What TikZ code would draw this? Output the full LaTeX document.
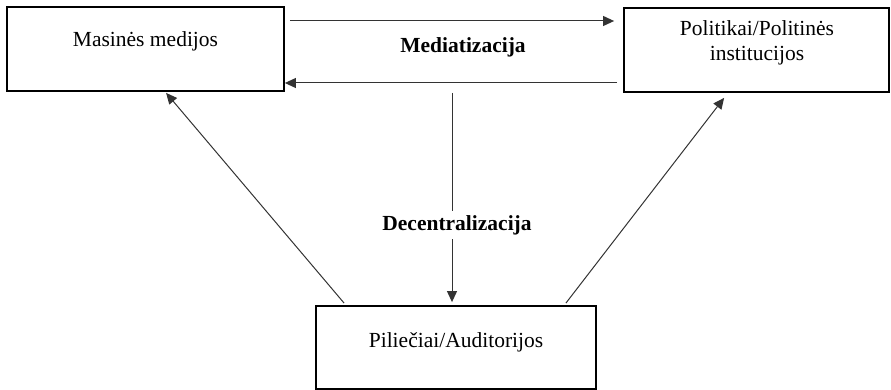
\documentclass[tikz,border=0pt]{standalone}
\usepackage{fontspec}
\setmainfont{Liberation Serif}
\usetikzlibrary{arrows.meta,calc}
\begin{document}
\begin{tikzpicture}[x=1pt,y=-1pt,
  box/.style={draw=black,line width=1.8pt,inner sep=0pt,fill=none},
  lbl/.style={font=\fontsize{21.5}{25}\selectfont,inner sep=0pt,align=center},
  blbl/.style={font=\fontsize{21.5}{25}\selectfont\bfseries,inner sep=1pt},
  arr/.style={draw=black!80,line width=1pt,-{Triangle[length=11pt,width=10pt]}}]
\useasboundingbox (0,0) rectangle (891,390);
% boxes
\node[box,minimum width=277pt,minimum height=84pt] (media) at (145.5,49) {};
\node[box,minimum width=265pt,minimum height=84pt] (pol) at (756.5,50) {};
\node[box,minimum width=280pt,minimum height=83pt] (cit) at (456,347.5) {};
% box texts
\node[lbl,anchor=base] (medialbl) at (145.5,47) {Masinės medijos};
\node[lbl,anchor=north] (pollbl) at (757,20) {Politikai/Politinės\\institucijos};
\node[lbl,anchor=base] (citlbl) at (456,347) {Piliečiai/Auditorijos};
% horizontal arrows
\draw[arr] ([xshift=5pt,yshift=28pt]media.east) -- ([xshift=-9pt,yshift=29pt]pol.west);
\draw[arr] ([xshift=-6pt,yshift=-33pt]pol.west) -- ([yshift=-34pt]media.east);
\node[blbl,anchor=base] (medlbl) at (463,53) {Mediatizacija};
% vertical arrow
\coordinate (dtop) at (452,93);
\draw[arr] (dtop) -- ([xshift=-4pt,yshift=3pt]cit.north);
\node[blbl,anchor=base,fill=white,inner ysep=4pt] (declbl) at (457,230) {Decentralizacija};
% diagonal arrows
\draw[arr] ([xshift=29pt,yshift=2pt]cit.north west) -- ([xshift=160pt,yshift=-1pt]media.south west);
\draw[arr] ([xshift=-31pt,yshift=2pt]cit.north east) -- ([xshift=101pt,yshift=-5pt]pol.south west);
\end{tikzpicture}
\end{document}
